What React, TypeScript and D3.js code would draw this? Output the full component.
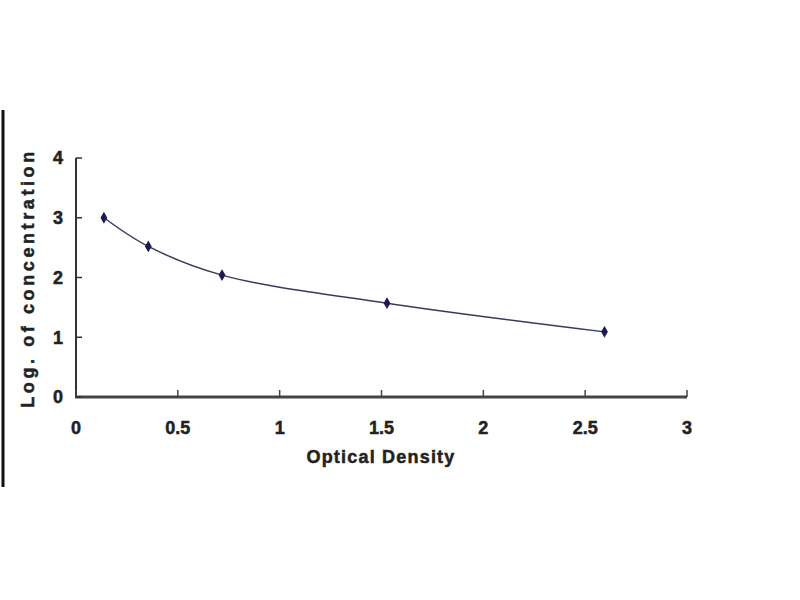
import React from "react";
import * as d3 from "d3";

const odValues = [0.137, 0.355, 0.717, 1.527, 2.595];
const logConc = [3.0, 2.52, 2.04, 1.57, 1.09];
const xTicks = [0, 0.5, 1, 1.5, 2, 2.5, 3];
const xTickLabels = ["0", "0.5", "1", "1.5", "2", "2.5", "3"];
const yTicks = [0, 1, 2, 3, 4];
const yTickLabels = ["0", "1", "2", "3", "4"];
const xTitle = "Optical Density";
const yTitle = "Log. of concentration";

export default function App() {
  const W = 800, H = 600;
  const x = d3.scaleLinear().domain([0, 3]).range([76, 687]);
  const y = d3.scaleLinear().domain([0, 4]).range([397, 158]);
  const pts = odValues.map((v, i) => [x(v), y(logConc[i])] as [number, number]);
  const line = d3.line().curve(d3.curveCatmullRom.alpha(0.5))(pts) || "";
  const font = "'Liberation Sans', Arial, sans-serif";
  const ink = "#222";
  const textProps = { fontFamily: font, fontWeight: "bold" as const, fontSize: 18, fill: ink, stroke: ink, strokeWidth: 0.5 };
  return (
    <svg width={W} height={H} style={{ position: "absolute", left: 0, top: 0, background: "#fff" }}>
      <rect width={W} height={H} fill="#fff" />
      <line x1={3} x2={3} y1={110} y2={487} stroke="#111" strokeWidth={3} />
      {/* axes */}
      <line x1={x(0)} x2={x(0)} y1={y(4)} y2={y(0)} stroke="#333" strokeWidth={2} />
      <line x1={x(0) - 1} x2={x(3)} y1={y(0)} y2={y(0)} stroke="#444" strokeWidth={3} />
      {yTicks.map((t, i) => (
        <g key={"y" + i}>
          <line x1={x(0)} x2={x(0) + 6} y1={y(t)} y2={y(t)} stroke="#333" strokeWidth={1.5} />
          <text x={63} y={y(t)} dy="0.35em" textAnchor="end" {...textProps}>
            {yTickLabels[i]}
          </text>
        </g>
      ))}
      {xTicks.map((t, i) => (
        <g key={"x" + i}>
          <line x1={x(t)} x2={x(t)} y1={y(0)} y2={y(0) - 7} stroke="#444" strokeWidth={1.5} />
          <text x={x(t)} y={428} dy="0.35em" textAnchor="middle" {...textProps}>
            {xTickLabels[i]}
          </text>
        </g>
      ))}
      <text x={381} y={457} dy="0.35em" textAnchor="middle" {...textProps} letterSpacing={1.2}>
        {xTitle}
      </text>
      <text transform="translate(28,278) rotate(-90)" dy="0.35em" textAnchor="middle" {...textProps} letterSpacing={3.6}>
        {yTitle}
      </text>
      <path d={line} fill="none" stroke="#3a3a5a" strokeWidth={1.5} />
      {pts.map((p, i) => (
        <path key={"m" + i} d={d3.symbol(d3.symbolDiamond, 40)() || ""} transform={`translate(${p[0]},${p[1]})`} fill="#1a1a55" />
      ))}
    </svg>
  );
}
